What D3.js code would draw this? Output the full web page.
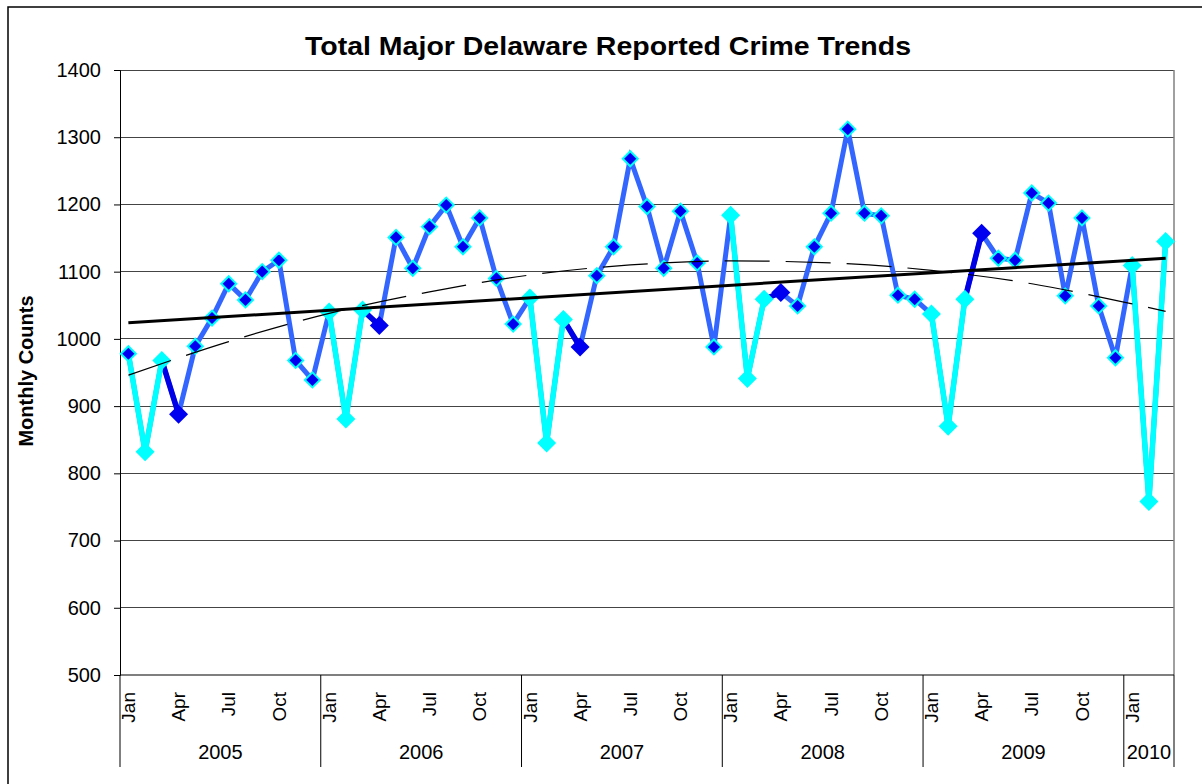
<!DOCTYPE html>
<html><head><meta charset="utf-8">
<script src="https://cdn.jsdelivr.net/npm/d3@7"></script>
<style>body{margin:0;background:#fff;} svg{display:block;font-family:"Liberation Sans",Arial,sans-serif;}</style>
</head><body><svg id="c" width="1202" height="784"></svg>
<script>
const monthNames = ["Jan","Feb","Mar","Apr","May","Jun","Jul","Aug","Sep","Oct","Nov","Dec"];
const years = ["2005","2006","2007","2008","2009","2010"];
const counts2005 = [978, 832, 968, 888, 989, 1031, 1082, 1058, 1100, 1117, 968, 939];
const counts2006 = [1040, 881, 1043, 1020, 1151, 1105, 1167, 1199, 1137, 1180, 1090, 1022];
const counts2007 = [1061, 845, 1029, 988, 1094, 1137, 1268, 1197, 1105, 1190, 1113, 988];
const counts2008 = [1184, 941, 1059, 1069, 1049, 1137, 1187, 1312, 1187, 1183, 1065, 1059];
const counts2009 = [1037, 870, 1059, 1157, 1120, 1117, 1217, 1202, 1064, 1180, 1049, 972];
const counts2010 = [1109, 758, 1145];
const yTicks = [500, 600, 700, 800, 900, 1000, 1100, 1200, 1300, 1400];
const shownMonthLabels = ["Jan","Apr","Jul","Oct"];
const firstQuarterMonths = ["Jan","Feb","Mar"];
// linear trendline, read at first and last month
const linearTrendValues = [1024, 1120];
// polynomial trendline, read at month indices
const polyTrendMonths = [0, 6, 12, 18, 24, 30, 36, 42, 48, 54, 60, 62];
const polyTrendValues = [946, 996, 1038, 1070, 1095, 1110, 1116, 1113, 1102, 1082, 1052, 1041];

const allCounts = [counts2005, counts2006, counts2007, counts2008, counts2009, counts2010];
const data = [];
years.forEach((yr, i) => allCounts[i].forEach((v, j) => data.push({year: yr, month: monthNames[j], value: v, idx: data.length})));

const svg = d3.select("#c");
const L = 120, R = 1174, T = 70, B = 675;
const x = d3.scaleBand().domain(data.map(d => d.idx)).range([L, R]).padding(0);
const cx = i => x(i) + x.bandwidth() / 2;
const y = d3.scaleLinear().domain([500, 1400]).range([B, T]);

// outer frame
svg.append("rect").attr("x", 8).attr("y", 7).attr("width", 1200).attr("height", 800)
  .attr("fill", "none").attr("stroke", "#000").attr("stroke-width", 1.5);

// title
svg.append("text").attr("x", 608).attr("y", 55).attr("text-anchor", "middle")
  .attr("font-size", 26).attr("font-weight", "bold")
  .attr("textLength", 606).attr("lengthAdjust", "spacingAndGlyphs")
  .text("Total Major Delaware Reported Crime Trends");

// gridlines
svg.append("g").selectAll("line").data(yTicks.filter(t => t > 500)).join("line")
  .attr("x1", L).attr("x2", R).attr("y1", d => y(d)).attr("y2", d => y(d))
  .attr("stroke", "#444").attr("stroke-width", 1).attr("shape-rendering", "crispEdges");
// plot right border
svg.append("line").attr("x1", R).attr("x2", R).attr("y1", T).attr("y2", B)
  .attr("stroke", "#808080").attr("stroke-width", 1.5);

// y axis
const yAxis = d3.axisLeft(y).tickValues(yTicks).tickFormat(d3.format("d")).tickSize(6).tickPadding(13);
const ga = svg.append("g").attr("transform", `translate(${L},0)`).call(yAxis);
ga.select(".domain").attr("stroke", "#000");
ga.selectAll(".tick line").attr("stroke", "#000");
ga.selectAll(".tick text").attr("font-size", 20).attr("font-family", "Liberation Sans, Arial, sans-serif").attr("fill", "#000");

// y axis title
svg.append("text").attr("transform", "translate(33,371) rotate(-90)").attr("text-anchor", "middle")
  .attr("font-size", 20).attr("font-weight", "bold").text("Monthly Counts");

// x axis line
svg.append("line").attr("x1", L).attr("x2", R).attr("y1", B).attr("y2", B)
  .attr("stroke", "#000").attr("stroke-width", 1.2);

// month labels
svg.append("g").selectAll("text").data(data.filter(d => shownMonthLabels.includes(d.month))).join("text")
  .attr("transform", d => `translate(${cx(d.idx)},692) rotate(-90)`)
  .attr("text-anchor", "end").attr("dy", "0.35em").attr("font-size", 19).text(d => d.month);

// year separators and labels
const yearStarts = years.map(yr => data.find(d => d.year === yr).idx);
const sepX = yearStarts.map(i => x(i)).concat([R]);
svg.append("g").selectAll("line").data(sepX).join("line")
  .attr("x1", d => d).attr("x2", d => d).attr("y1", B).attr("y2", 767)
  .attr("stroke", "#000").attr("stroke-width", 1);
svg.append("g").selectAll("text").data(years).join("text")
  .attr("x", (d, i) => (sepX[i] + sepX[i + 1]) / 2).attr("y", 759)
  .attr("text-anchor", "middle").attr("font-size", 20).text(d => d);

// series
const line = d3.line().x(d => cx(d.idx)).y(d => y(d.value));
svg.append("path").datum(data).attr("d", line).attr("fill", "none")
  .attr("stroke", "#3366FF").attr("stroke-width", 5).attr("stroke-linejoin", "miter");

// March->April highlight segments
years.forEach(yr => {
  const seg = data.filter(d => d.year === yr && (d.month === "Mar" || d.month === "Apr"));
  if (seg.length === 2) svg.append("path").datum(seg).attr("d", line).attr("fill", "none")
    .attr("stroke", "#0000E6").attr("stroke-width", 5.5);
});
// first-quarter highlight segments
years.forEach(yr => {
  const seg = data.filter(d => d.year === yr && firstQuarterMonths.includes(d.month));
  svg.append("path").datum(seg).attr("d", line).attr("fill", "none")
    .attr("stroke", "#00FFFF").attr("stroke-width", 5.5);
});

// markers
const diamond = s => `M0,${-s}L${s},0L0,${s}L${-s},0Z`;
const markerType = d => {
  if (d.month === "Apr") return "apr";
  if (firstQuarterMonths.includes(d.month) && d.idx > 0) return "q1";
  return "base";
};
svg.append("g").selectAll("path").data(data).join("path")
  .attr("transform", d => `translate(${cx(d.idx)},${y(d.value)})`)
  .attr("d", d => markerType(d) === "base" ? diamond(7.5) : diamond(9.5))
  .attr("fill", d => markerType(d) === "q1" ? "#00FFFF" : "#0000F0")
  .attr("stroke", d => markerType(d) === "base" ? "#00FFFF" : "none")
  .attr("stroke-width", 2);

// linear trendline
const first = data[0], last = data[data.length - 1];
svg.append("line").attr("x1", cx(first.idx)).attr("x2", cx(last.idx))
  .attr("y1", y(linearTrendValues[0])).attr("y2", y(linearTrendValues[1]))
  .attr("stroke", "#000").attr("stroke-width", 3);

// polynomial trendline (dashed)
const polyPts = polyTrendMonths.map((m, i) => ({m, v: polyTrendValues[i]}));
svg.append("path").datum(polyPts)
  .attr("d", d3.line().x(d => cx(d.m)).y(d => y(d.v)).curve(d3.curveMonotoneX))
  .attr("fill", "none").attr("stroke", "#000").attr("stroke-width", 1.2).attr("stroke-dasharray", "45,16");
</script></body></html>
